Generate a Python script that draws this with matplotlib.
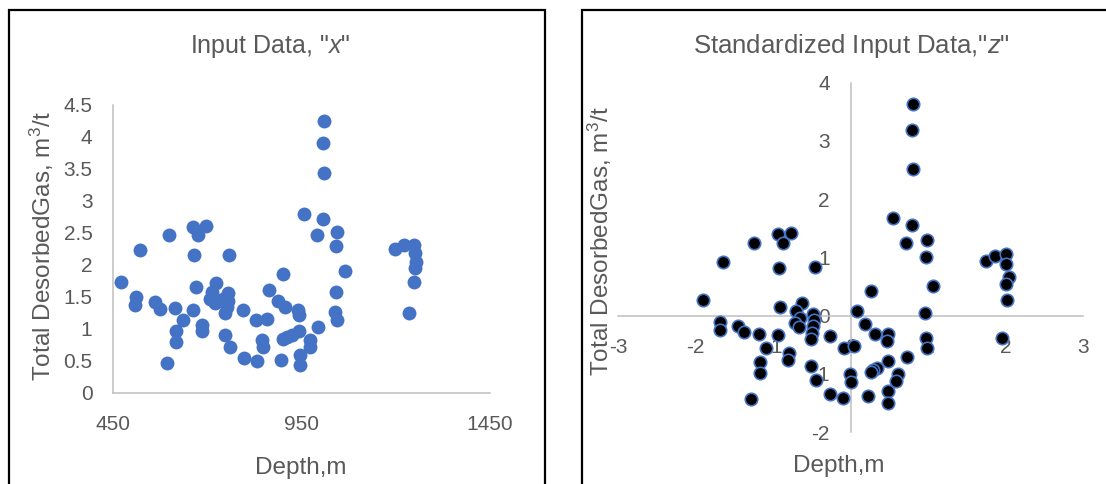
import matplotlib
matplotlib.use('Agg')
from matplotlib import pyplot as plt
from matplotlib.patches import Rectangle

# raw data: depth (m) and total desorbed gas (m3/t)
depth = [471, 510, 508, 522, 560, 574, 599, 593, 615, 616, 616, 635, 661, 662, 675,
         695, 665, 669, 686, 686, 723, 711, 707, 720, 742, 755, 755, 751, 746, 757,
         746, 761, 793, 796, 830, 857, 845, 847, 831, 864, 888, 901, 906, 894, 900,
         912, 925, 941, 944, 944, 946, 946, 972, 972, 993, 955, 1006, 990, 1009, 1008,
         1009, 1043, 1041, 1064, 1041, 1039, 1043, 1198, 1222, 1247, 1251, 1253, 1251, 1249, 1236]
gas = [1.73, 1.49, 1.37, 2.23, 1.42, 1.31, 2.47, 0.47, 1.32, 0.97, 0.80, 1.14, 1.30, 2.59, 2.46,
       2.61, 2.15, 1.65, 1.06, 0.97, 1.71, 1.58, 1.46, 1.40, 1.47, 1.56, 1.44, 1.34, 1.25, 2.16,
       0.91, 0.71, 1.29, 0.55, 1.14, 1.15, 0.83, 0.71, 0.49, 1.60, 1.44, 1.85, 1.34, 0.51, 0.84,
       0.87, 0.90, 1.30, 1.21, 0.97, 0.59, 0.43, 0.83, 0.71, 1.02, 2.79, 2.72, 2.47, 4.25, 3.91,
       3.43, 2.51, 2.29, 1.91, 1.57, 1.27, 1.14, 2.25, 2.31, 2.31, 2.18, 2.04, 1.95, 1.73, 1.25]

# standardized values
depth_z = [-1.90, -1.64, -1.68, -1.69, -1.45, -1.38, -1.25, -1.18, -1.09, -1.17, -1.17, -1.28,
           -0.94, -0.87, -0.77, -0.92, -0.91, -0.93, -0.80, -0.81, -0.63, -0.70, -0.65, -0.72,
           -0.66, -0.48, -0.47, -0.48, -0.50, -0.51, -0.46, -0.26, -0.51, -0.44, -0.27, -0.10,
           -0.09, 0.04, -0.01, 0.00, 0.23, 0.26, 0.08, 0.19, 0.31, 0.48, 0.47, 0.73, 0.48, 0.34,
           0.29, 0.26, 0.61, 0.59, 0.48, 0.49, 0.81, 0.79, 0.81, 0.55, 0.79, 0.71, 0.99, 0.98,
           1.07, 0.96, 0.97, 0.99, 1.75, 1.87, 2.01, 2.01, 2.04, 2.01, 2.02, 1.95]
gas_z = [0.26, 0.92, -0.11, -0.24, -0.18, -0.28, 1.25, -0.31, -0.56, -0.79, -0.99, -1.44,
         1.40, 1.25, 1.42, 0.81, 0.15, -0.33, -0.65, -0.76, 0.22, 0.07, -0.05, -0.13,
         -0.20, 0.03, -0.08, -0.18, -0.30, -0.40, 0.84, -0.35, -0.87, -1.11, -1.34, -1.42,
         -0.56, -0.53, -1.00, -1.14, -1.39, 0.43, 0.07, -0.15, -0.31, -0.32, -0.44, -0.72, -0.78, -0.90,
         -0.94, -0.97, -1.00, -1.12, -1.30, -1.51, 3.64, 3.18, 2.52, 1.67, 1.56, 1.25, 1.30, 1.01,
         0.51, 0.05, -0.38, -0.56, 0.94, 1.03, 1.05, 0.88, 0.66, 0.55, 0.27, -0.38]

x_ticks = [450, 950, 1450]
y_ticks = [0, 0.5, 1, 1.5, 2, 2.5, 3, 3.5, 4, 4.5]
zx_ticks = [-3, -2, -1, 0, 1, 2, 3]
zy_ticks = [-2, -1, 0, 1, 2, 3, 4]

plt.rcParams['font.family'] = ['Liberation Sans', 'DejaVu Sans']
plt.rcParams['axes.unicode_minus'] = False
plt.rcParams['mathtext.fontset'] = 'custom'
plt.rcParams['mathtext.rm'] = 'Liberation Sans'
plt.rcParams['mathtext.it'] = 'Liberation Sans:italic'

txt = '#595959'
axis_col = '#bfbfbf'
blue = '#4472c4'
W, H = 1106, 484

def box(x0, y0, x1, y1):
    return [x0/W, 1-y1/H, (x1-x0)/W, (y1-y0)/H]

def fx(px):
    return px/W

def fy(py):
    return 1-py/H

fig = plt.figure(figsize=(W/100, H/100), dpi=100)

# left: raw input data
ax1 = fig.add_axes(box(113.3, 105, 490, 392.7))
ax1.scatter(depth, gas, s=100, color=blue, linewidths=0, zorder=3)
ax1.set_xlim(450, 1450)
ax1.set_ylim(0, 4.5)
ax1.set_xticks(x_ticks)
ax1.set_yticks(y_ticks)
ax1.set_xticklabels([f'{v:g}' for v in x_ticks])
ax1.set_yticklabels([f'{v:g}' for v in y_ticks])
for s in ['top', 'right']:
    ax1.spines[s].set_visible(False)
for s in ['left', 'bottom']:
    ax1.spines[s].set_color(axis_col)
    ax1.spines[s].set_linewidth(1.1)
ax1.tick_params(length=0, labelsize=15, labelcolor=txt)
ax1.tick_params(axis='x', pad=16)
ax1.tick_params(axis='y', pad=15)

# right: standardized data, axes crossing at zero
ax2 = fig.add_axes(box(618, 82.7, 1083, 432))
ax2.scatter(depth_z, gas_z, s=80, facecolor='black', edgecolor=blue, linewidths=1.2, zorder=3)
ax2.set_xlim(-3, 3)
ax2.set_ylim(-2, 4)
ax2.set_xticks(zx_ticks)
ax2.set_yticks(zy_ticks)
ax2.set_xticklabels([str(v) for v in zx_ticks])
ax2.set_yticklabels([str(v) for v in zy_ticks])
ax2.spines['left'].set_position(('data', 0))
ax2.spines['bottom'].set_position(('data', 0))
for s in ['top', 'right']:
    ax2.spines[s].set_visible(False)
for s in ['left', 'bottom']:
    ax2.spines[s].set_color(axis_col)
    ax2.spines[s].set_linewidth(1.1)
ax2.tick_params(length=0, labelsize=15, labelcolor=txt)
ax2.tick_params(axis='x', pad=16.5)
ax2.tick_params(axis='y', pad=15)
ax2.patch.set_alpha(0)

# titles and axis labels
fig.text(fx(270), fy(46), 'Input Data, "$x$"', fontsize=18, color=txt, ha='center', va='center')
fig.text(fx(851), fy(46), 'Standardized Input Data,"$z$"', fontsize=18.5, color=txt, ha='center', va='center')
ylab = 'Total DesorbedGas, m$^3$/t'
fig.text(fx(41.7), fy(246.5), ylab, fontsize=17.5, color=txt, rotation=90, ha='center', va='center')
fig.text(fx(600), fy(241), ylab, fontsize=17.5, color=txt, rotation=90, ha='center', va='center')
fig.text(fx(300.7), fy(468), 'Depth,m', fontsize=17.5, color=txt, ha='center', va='center')
fig.text(fx(839), fy(466), 'Depth,m', fontsize=17.5, color=txt, ha='center', va='center')

# chart borders
fig.add_artist(Rectangle((fx(8.5), -0.1), fx(545-8.5), 0.1+fy(10), transform=fig.transFigure,
                         fill=False, ec='black', lw=1.6))
fig.add_artist(Rectangle((fx(582), -0.1), fx(1130-582), 0.1+fy(10), transform=fig.transFigure,
                         fill=False, ec='black', lw=1.6))

fig.savefig('out.png', dpi=100, facecolor='white')
